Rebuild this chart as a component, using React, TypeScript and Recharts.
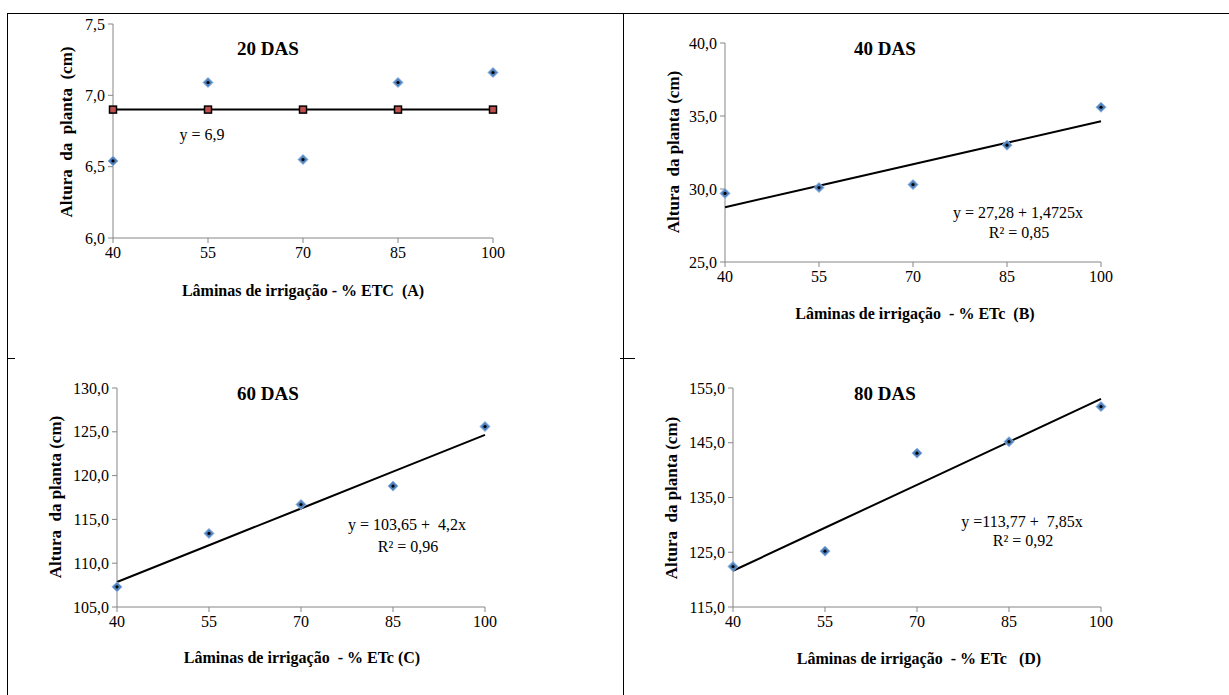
import React from "react";
import { ComposedChart, Scatter, XAxis, YAxis } from "recharts";

// Irrigation depths (% ETc) and mean plant height (cm) at each evaluation date
const laminas = [40, 55, 70, 85, 100];
const altura20 = [6.54, 7.09, 6.55, 7.09, 7.16];
const media20 = [6.9, 6.9, 6.9, 6.9, 6.9];
const altura40 = [29.7, 30.1, 30.3, 33.0, 35.6];
const altura60 = [107.3, 113.4, 116.7, 118.8, 125.6];
const altura80 = [122.4, 125.2, 143.1, 145.2, 151.6];

// Fitted regressions (x = treatment order 1..5)
const reg40 = { a: 27.28, b: 1.4725 };
const reg60 = { a: 103.65, b: 4.2 };
const reg80 = { a: 113.77, b: 7.85 };

const ticks20 = [6.0, 6.5, 7.0, 7.5];
const ticks40 = [25, 30, 35, 40];
const ticks60 = [105, 110, 115, 120, 125, 130];
const ticks80 = [115, 125, 135, 145, 155];

const FONT = "'Liberation Serif', 'Times New Roman', serif";
const AXIS = "#868686";

const pts = (ys: number[]) => laminas.map((x, i) => ({ x, y: ys[i] }));
const trend = (r: { a: number; b: number }) =>
  laminas.map((x, i) => ({ x, y: r.a + r.b * (i + 1) }));

const dec = (v: number) => v.toFixed(1).replace(".", ",");

const Diamond = (p: any) => {
  const { cx, cy } = p;
  const s = 5;
  return (
    <g>
      <path
        d={`M${cx},${cy - s}L${cx + s},${cy}L${cx},${cy + s}L${cx - s},${cy}Z`}
        fill="#4F81BD"
        stroke="#8EB4E3"
        strokeWidth={1}
      />
      <circle cx={cx} cy={cy} r={1.6} fill="#000" />
    </g>
  );
};

const Square = (p: any) => {
  const { cx, cy } = p;
  return (
    <rect x={cx - 3.5} y={cy - 3.5} width={7} height={7} fill="#C0504D" stroke="#000" strokeWidth={1.5} />
  );
};

const Nothing = () => <g />;

type PanelProps = {
  left: number;
  top: number;
  width: number;
  height: number;
  margin: { top: number; right: number; bottom: number; left: number };
  domain: [number, number];
  yTicks: number[];
  data: { x: number; y: number }[];
  fit: { x: number; y: number }[];
  fitMarkers?: boolean;
};

function Panel({ left, top, width, height, margin, domain, yTicks, data, fit, fitMarkers }: PanelProps) {
  const tick = { fill: "#000", fontSize: 16, fontFamily: FONT };
  return (
    <div style={{ position: "absolute", left, top }}>
      <ComposedChart width={width} height={height} margin={margin}>
        <XAxis
          type="number"
          dataKey="x"
          domain={[40, 100]}
          ticks={laminas}
          tick={tick}
          stroke={AXIS}
          tickSize={5}
          tickMargin={4}
          height={30}
          interval={0}
        />
        <YAxis
          type="number"
          dataKey="y"
          domain={domain}
          ticks={yTicks}
          tick={tick}
          tickFormatter={dec}
          stroke={AXIS}
          tickSize={5}
          tickMargin={3}
          width={50}
          interval={0}
          allowDataOverflow
        />
        <Scatter
          data={fit}
          line={{ stroke: "#000", strokeWidth: 2 }}
          lineType="joint"
          shape={fitMarkers ? Square : Nothing}
          isAnimationActive={false}
        />
        <Scatter data={data} shape={Diamond} isAnimationActive={false} />
      </ComposedChart>
    </div>
  );
}

const Txt = ({ x, y, children, bold, size = 16, rotate }: any) => (
  <div
    style={{
      position: "absolute",
      left: x,
      top: y,
      transform: `translate(-50%, -50%)${rotate ? " rotate(-90deg)" : ""}`,
      fontFamily: FONT,
      fontSize: size,
      fontWeight: bold ? "bold" : "normal",
      whiteSpace: "pre",
      color: "#000",
      lineHeight: 1,
    }}
  >
    {children}
  </div>
);

export default function App() {
  return (
    <div style={{ position: "absolute", left: 0, top: 0, width: 1229, height: 695, background: "#fff", overflow: "hidden" }}>
      {/* table frame */}
      <div style={{ position: "absolute", left: 7, top: 13, width: 1222, height: 1, background: "#000" }} />
      <div style={{ position: "absolute", left: 7, top: 13, width: 1, height: 682, background: "#000" }} />
      <div style={{ position: "absolute", left: 623, top: 13, width: 1, height: 682, background: "#000" }} />
      <div style={{ position: "absolute", left: 7, top: 358, width: 8, height: 1, background: "#000" }} />
      <div style={{ position: "absolute", left: 620, top: 358, width: 15, height: 1, background: "#000" }} />

      <Panel
        left={0}
        top={0}
        width={620}
        height={340}
        margin={{ top: 24, right: 127, bottom: 72, left: 63 }}
        domain={[6.0, 7.5]}
        yTicks={ticks20}
        data={pts(altura20)}
        fit={pts(media20)}
        fitMarkers
      />
      <Panel
        left={610}
        top={0}
        width={619}
        height={340}
        margin={{ top: 43, right: 128, bottom: 48, left: 65 }}
        domain={[25, 40]}
        yTicks={ticks40}
        data={pts(altura40)}
        fit={trend(reg40)}
      />
      <Panel
        left={0}
        top={340}
        width={620}
        height={355}
        margin={{ top: 48, right: 135, bottom: 58, left: 67 }}
        domain={[105, 130]}
        yTicks={ticks60}
        data={pts(altura60)}
        fit={trend(reg60)}
      />
      <Panel
        left={610}
        top={340}
        width={619}
        height={355}
        margin={{ top: 48, right: 128, bottom: 58, left: 73 }}
        domain={[115, 155]}
        yTicks={ticks80}
        data={pts(altura80)}
        fit={trend(reg80)}
      />

      <Txt x={268} y={48} bold size={19}>20 DAS</Txt>
      <Txt x={885} y={48} bold size={19}>40 DAS</Txt>
      <Txt x={268} y={393} bold size={19}>60 DAS</Txt>
      <Txt x={885} y={393} bold size={19}>80 DAS</Txt>

      <Txt x={202} y={135}>y = 6,9</Txt>
      <Txt x={1018} y={213}>y = 27,28 + 1,4725x</Txt>
      <Txt x={1019} y={233}>R² = 0,85</Txt>
      <Txt x={407} y={525}>y = 103,65 +  4,2x</Txt>
      <Txt x={408} y={547}>R² = 0,96</Txt>
      <Txt x={1022} y={522}>y =113,77 +  7,85x</Txt>
      <Txt x={1023} y={541}>R² = 0,92</Txt>

      <Txt x={303} y={291} bold>Lâminas de irrigação - % ETC  (A)</Txt>
      <Txt x={915} y={314} bold>Lâminas de irrigação  - % ETc  (B)</Txt>
      <Txt x={302} y={658} bold>Lâminas de irrigação  - % ETc (C)</Txt>
      <Txt x={919} y={659} bold>Lâminas de irrigação  - % ETc   (D)</Txt>

      <Txt x={66} y={132} bold size={17} rotate>Altura  da  planta  (cm)</Txt>
      <Txt x={673} y={152} bold size={17} rotate>Altura  da planta (cm)</Txt>
      <Txt x={55} y={497} bold size={17} rotate>Altura  da planta (cm)</Txt>
      <Txt x={671} y={498} bold size={17} rotate>Altura  da planta (cm)</Txt>
    </div>
  );
}
